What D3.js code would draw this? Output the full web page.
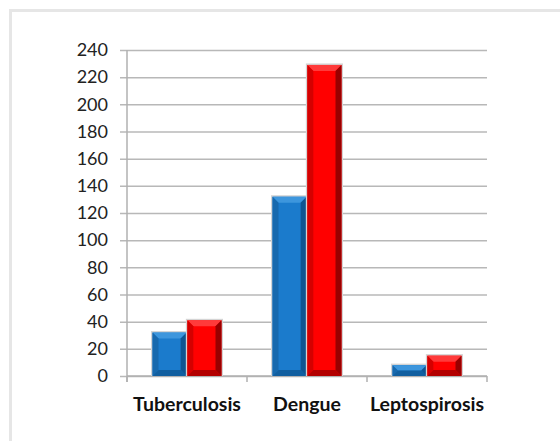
<!DOCTYPE html>
<html>
<head>
<meta charset="utf-8">
<script src="https://cdn.jsdelivr.net/npm/d3@7"></script>
<style>
  body { margin: 0; background: #fff; }
  .tick text { font-family: Lato, "Open Sans", sans-serif; }
</style>
</head>
<body>
<div id="chart"></div>
<script>
var width = 560,
    height = 441;

var categories = ["Tuberculosis", "Dengue", "Leptospirosis"];
var series1 = [32, 132, 8];
var series2 = [41, 229, 15];
var yTicks = [0, 20, 40, 60, 80, 100, 120, 140, 160, 180, 200, 220, 240];

var colors = {
  s1: { face: "#1b7bcc", light: "#3d96dd", dark: "#0f5592", side: "#1769ae" },
  s2: { face: "#ff0000", light: "#ff3a3a", dark: "#990000", side: "#d40000" }
};

var margin = { left: 127, right: 73, top: 50, bottom: 65 };

var svg = d3.select("#chart").append("svg")
    .attr("width", width)
    .attr("height", height);

// outer frame
svg.append("rect")
    .attr("x", 10.5).attr("y", 10.5)
    .attr("width", 600).attr("height", 500)
    .attr("fill", "none")
    .attr("stroke", "#e6e6e6")
    .attr("stroke-width", 3);

var x = d3.scaleBand()
    .domain(categories)
    .range([margin.left, width - margin.right])
    .paddingInner(0)
    .paddingOuter(0);

var y = d3.scaleLinear()
    .domain([0, 240])
    .range([height - margin.bottom, margin.top]);

var inner = d3.scaleBand()
    .domain([0, 1])
    .range([25.5, x.bandwidth() - 25.5])
    .paddingInner(0.02);

// gridlines + y axis
var yAxis = d3.axisLeft(y)
    .tickValues(yTicks)
    .tickSize(-(width - margin.right - margin.left))
    .tickPadding(19);

var gy = svg.append("g")
    .attr("transform", "translate(" + margin.left + ",0)")
    .call(yAxis);
gy.select(".domain").remove();
gy.selectAll(".tick line")
    .attr("stroke", "#b8b8b8")
    .attr("stroke-width", 1.5)
    .attr("x1", -7);
gy.selectAll(".tick text")
    .attr("fill", "#222")
    .attr("font-size", 18);

// y axis line
svg.append("line")
    .attr("x1", margin.left).attr("x2", margin.left)
    .attr("y1", y(240)).attr("y2", y(0) + 6)
    .attr("stroke", "#b0b0b0")
    .attr("stroke-width", 1.5);

// x axis ticks at category boundaries
var bounds = categories.map(function(c) { return x(c); }).concat([x(categories[categories.length - 1]) + x.bandwidth()]);
svg.selectAll(".xtick")
    .data(bounds)
  .enter().append("line")
    .attr("x1", function(d) { return d; })
    .attr("x2", function(d) { return d; })
    .attr("y1", y(0))
    .attr("y2", y(0) + 6)
    .attr("stroke", "#b0b0b0")
    .attr("stroke-width", 1.5);

svg.append("line")
    .attr("x1", margin.left).attr("x2", width - margin.right)
    .attr("y1", y(0)).attr("y2", y(0))
    .attr("stroke", "#b0b0b0")
    .attr("stroke-width", 1.5);

// category labels
svg.selectAll(".cat")
    .data(categories)
  .enter().append("text")
    .attr("x", function(d) { return x(d) + x.bandwidth() / 2; })
    .attr("y", y(0) + 35)
    .attr("text-anchor", "middle")
    .attr("font-family", "Lato, 'Open Sans', sans-serif")
    .attr("font-weight", "bold")
    .attr("font-size", 19.5)
    .attr("fill", "#111")
    .text(function(d) { return d; });

// bevelled bars
function drawBar(g, x0, w, v, c) {
  var top = y(v), bot = y(0), h = bot - top;
  var b = Math.min(6, h / 2, w / 2);
  var x1 = x0 + w;
  g.append("rect")
      .attr("x", x0 - 1.5).attr("y", top - 1.5)
      .attr("width", w + 3).attr("height", h + 1.5)
      .attr("fill", "#d4d4d4");
  g.append("rect")
      .attr("x", x0).attr("y", top)
      .attr("width", w).attr("height", h)
      .attr("fill", c.face);
  // top bevel
  g.append("polygon")
      .attr("points", [[x0, top], [x1, top], [x1 - b, top + b], [x0 + b, top + b]].join(" "))
      .attr("fill", c.light);
  // left bevel
  g.append("polygon")
      .attr("points", [[x0, top], [x0 + b, top + b], [x0 + b, bot - b], [x0, bot]].join(" "))
      .attr("fill", c.side);
  // right bevel
  g.append("polygon")
      .attr("points", [[x1, top], [x1 - b, top + b], [x1 - b, bot - b], [x1, bot]].join(" "))
      .attr("fill", c.dark);
  // bottom bevel
  g.append("polygon")
      .attr("points", [[x0, bot], [x0 + b, bot - b], [x1 - b, bot - b], [x1, bot]].join(" "))
      .attr("fill", c.dark)
      .attr("opacity", 0.75);
}

var bars = svg.append("g");
categories.forEach(function(cat, i) {
  drawBar(bars, x(cat) + inner(0), inner.bandwidth(), series1[i], colors.s1);
  drawBar(bars, x(cat) + inner(1), inner.bandwidth(), series2[i], colors.s2);
});
</script>
</body>
</html>
